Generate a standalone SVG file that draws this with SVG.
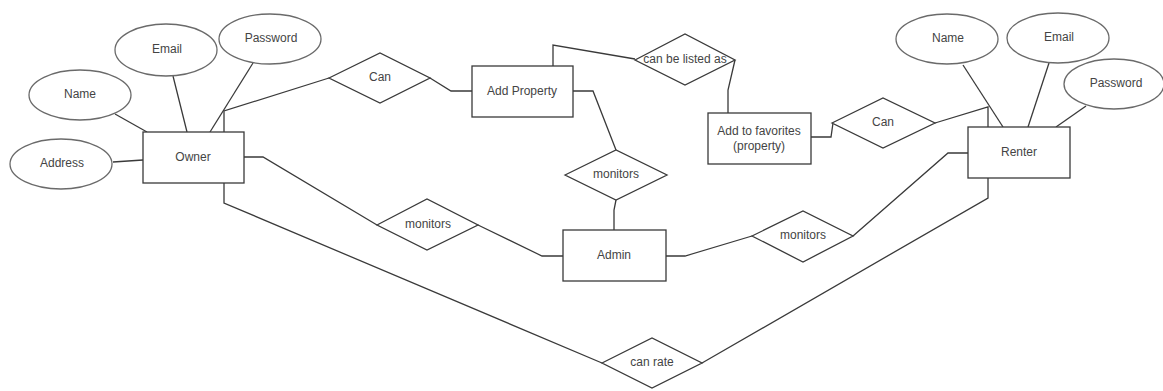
<svg xmlns="http://www.w3.org/2000/svg" width="1163" height="391" viewBox="0 0 1163 391">
  <style>
    .shape { fill: #ffffff; stroke: #3a3a3a; stroke-width: 1.3; }
    .attr { fill: #ffffff; stroke: #6a6a6a; stroke-width: 1.3; }
    .link { fill: none; stroke: #3a3a3a; stroke-width: 1.3; }
    text { font-family: "Liberation Sans", Arial, sans-serif; font-size: 12px; fill: #444444; text-anchor: middle; dominant-baseline: central; }
  </style>
  <rect width="1163" height="391" fill="#ffffff"/>

  <!-- connectors -->
  <g id="connectors">
    <!-- owner attributes -->
    <polyline class="link" points="115,114 147,132"/>
    <polyline class="link" points="173,76 187,132"/>
    <polyline class="link" points="253,63 210,132"/>
    <polyline class="link" points="113,162 143,160"/>
    <!-- owner - can - add property -->
    <polyline class="link" points="224,132 224,111 329,78"/>
    <polyline class="link" points="430,78 451,91 472,91"/>
    <!-- add property - can be listed as - add to favorites -->
    <polyline class="link" points="553,66 553,45 635,59"/>
    <polyline class="link" points="735,60 728,90 728,113"/>
    <!-- add to favorites - can - renter -->
    <polyline class="link" points="811,137 831,137 833,123"/>
    <polyline class="link" points="935,123 988,107 988,127"/>
    <!-- renter attributes -->
    <polyline class="link" points="963,65 1003,127"/>
    <polyline class="link" points="1049,63 1028,127"/>
    <polyline class="link" points="1086,106 1056,127"/>
    <!-- add property - monitors - admin -->
    <polyline class="link" points="573,91 593,91 616,150"/>
    <polyline class="link" points="616,200 614,210 614,230"/>
    <!-- owner - monitors - admin -->
    <polyline class="link" points="244,157 263,157 377,225"/>
    <polyline class="link" points="478,225 542,256 563,256"/>
    <!-- admin - monitors - renter -->
    <polyline class="link" points="666,256 685,256 752,236"/>
    <polyline class="link" points="853,236 948,153 968,153"/>
    <!-- owner - can rate - renter -->
    <polyline class="link" points="224,183 224,203 602,363"/>
    <polyline class="link" points="702,363 988,198 988,178"/>
  </g>

  <!-- entities -->
  <g id="owner">
    <rect class="shape" x="143" y="132" width="101" height="51"/>
    <text x="193" y="157">Owner</text>
  </g>
  <g id="add-property">
    <rect class="shape" x="472" y="66" width="101" height="51"/>
    <text x="522" y="91">Add Property</text>
  </g>
  <g id="add-to-favorites">
    <rect class="shape" x="708" y="113" width="103" height="51"/>
    <text x="759" y="131">Add to favorites</text>
    <text x="759" y="146">(property)</text>
  </g>
  <g id="renter">
    <rect class="shape" x="968" y="127" width="102" height="51"/>
    <text x="1019" y="152">Renter</text>
  </g>
  <g id="admin">
    <rect class="shape" x="563" y="230" width="103" height="51"/>
    <text x="614" y="255">Admin</text>
  </g>

  <!-- owner attributes -->
  <g id="owner-name">
    <ellipse class="attr" cx="80" cy="95" rx="51" ry="25"/>
    <text x="80" y="94">Name</text>
  </g>
  <g id="owner-email">
    <ellipse class="attr" cx="166" cy="50" rx="51" ry="26"/>
    <text x="167" y="49">Email</text>
  </g>
  <g id="owner-password">
    <ellipse class="attr" cx="270" cy="39" rx="51" ry="25"/>
    <text x="271" y="38">Password</text>
  </g>
  <g id="owner-address">
    <ellipse class="attr" cx="61" cy="164" rx="51" ry="25"/>
    <text x="62" y="163">Address</text>
  </g>

  <!-- renter attributes -->
  <g id="renter-name">
    <ellipse class="attr" cx="947" cy="39" rx="51" ry="25"/>
    <text x="948" y="38">Name</text>
  </g>
  <g id="renter-email">
    <ellipse class="attr" cx="1058" cy="38" rx="51" ry="25"/>
    <text x="1059" y="37">Email</text>
  </g>
  <g id="renter-password">
    <ellipse class="attr" cx="1114" cy="84" rx="50" ry="25"/>
    <text x="1116" y="83">Password</text>
  </g>

  <!-- relationships -->
  <g id="owner-can">
    <polygon class="shape" points="329,78 380,53 430,78 380,103"/>
    <text x="380" y="77">Can</text>
  </g>
  <g id="can-be-listed-as">
    <polygon class="shape" points="635,60 685,34 735,60 685,85"/>
    <text x="685" y="59">can be listed as</text>
  </g>
  <g id="renter-can">
    <polygon class="shape" points="832,123 883,98 935,123 883,148"/>
    <text x="883" y="122">Can</text>
  </g>
  <g id="property-monitors">
    <polygon class="shape" points="565,175 616,150 667,175 616,200"/>
    <text x="616" y="174">monitors</text>
  </g>
  <g id="owner-monitors">
    <polygon class="shape" points="377,225 427,199 478,225 427,250"/>
    <text x="428" y="224">monitors</text>
  </g>
  <g id="renter-monitors">
    <polygon class="shape" points="752,236 803,211 853,236 803,262"/>
    <text x="803" y="235">monitors</text>
  </g>
  <g id="can-rate">
    <polygon class="shape" points="602,363 652,338 702,363 652,388"/>
    <text x="652" y="362">can rate</text>
  </g>
</svg>
